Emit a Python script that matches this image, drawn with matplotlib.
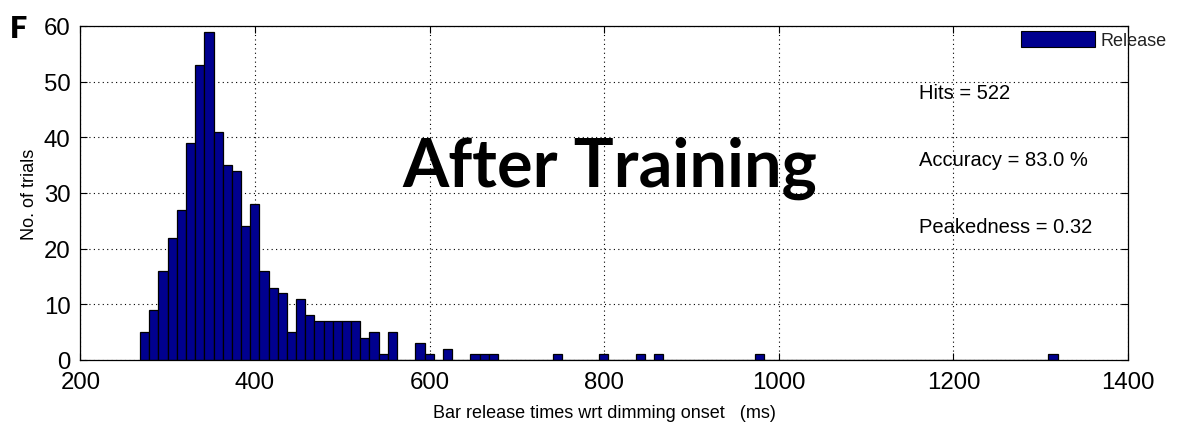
import numpy as np
import matplotlib
matplotlib.use("Agg")
import matplotlib.pyplot as plt
from matplotlib.patches import Rectangle

# Histogram of bar release times (100 equal bins between the fastest and slowest release)
bin_lo = 268.4
bin_hi = 1319.4
counts = [5, 9, 16, 22, 27, 39, 53, 59, 41, 35,
          34, 24, 28, 16, 13, 12, 5, 11, 8, 7,
          7, 7, 7, 7, 4, 5, 1, 5, 0, 0,
          3, 1, 0, 2, 0, 0, 1, 1, 1, 0,
          0, 0, 0, 0, 0, 1, 0, 0, 0, 0,
          1, 0, 0, 0, 1, 0, 1, 0, 0, 0,
          0, 0, 0, 0, 0, 0, 0, 1, 0, 0,
          0, 0, 0, 0, 0, 0, 0, 0, 0, 0,
          0, 0, 0, 0, 0, 0, 0, 0, 0, 0,
          0, 0, 0, 0, 0, 0, 0, 0, 0, 1]

x_ticks = [200, 400, 600, 800, 1000, 1200, 1400]
y_ticks = [0, 10, 20, 30, 40, 50, 60]

hits = 522
accuracy = 83.0
peakedness = 0.32

BAR_COLOR = "#00008F"
SANS = ["Liberation Sans", "DejaVu Sans"]

plt.rcParams["font.family"] = SANS

fig = plt.figure(figsize=(11.77, 4.27), dpi=100)
ax = fig.add_axes([0.0683, 0.1546, 0.8901, 0.7822])

edges = np.linspace(bin_lo, bin_hi, len(counts) + 1)
ax.bar(edges[:-1], counts, width=np.diff(edges), align="edge",
       color=BAR_COLOR, edgecolor="black", linewidth=0.9, zorder=2)

ax.set_xlim(200, 1400)
ax.set_ylim(0, 60)
ax.set_xticks(x_ticks)
ax.set_yticks(y_ticks)
ax.tick_params(direction="in", top=True, right=True, length=5, width=0.8,
               labelsize=17.3)
ax.tick_params(axis="x", pad=8)
ax.tick_params(axis="y", pad=7)
ax.grid(True, linestyle=(0, (1, 3)), color="black", linewidth=0.8)
ax.set_axisbelow(True)
for s in ax.spines.values():
    s.set_linewidth(0.9)

ax.set_xlabel("Bar release times wrt dimming onset   (ms)", fontsize=13, labelpad=8)
ax.set_ylabel("No. of trials", fontsize=13, labelpad=4)

# Summary statistics
ax.text(1160, 48, f"Hits = {hits}", fontsize=14.5, va="center", ha="left")
ax.text(1160, 36, f"Accuracy = {accuracy:.1f} %", fontsize=14.5, va="center", ha="left")
ax.text(1160, 24, f"Peakedness = {peakedness:.2f}", fontsize=14.5, va="center", ha="left")

ax.text(806, 34.6, "After Training", fontsize=48, fontweight="bold",
        family=["Lato", "DejaVu Sans"], ha="center", va="center")

# Panel letter
fig.text(0.0085, 0.966, "F", fontsize=22, fontweight="heavy",
         family=["Lato", "DejaVu Sans"], ha="left", va="top")

# Legend entry
W, H = 1177.0, 427.0
fig.add_artist(Rectangle((1021 / W, 1 - 48 / H), 74 / W, 16 / H,
                         transform=fig.transFigure, facecolor=BAR_COLOR,
                         edgecolor="black", linewidth=0.8))
fig.text(1100 / W, 1 - 41 / H, "Release", fontsize=13, va="center", ha="left",
         color="#222222")

fig.savefig("out.png", dpi=100)
